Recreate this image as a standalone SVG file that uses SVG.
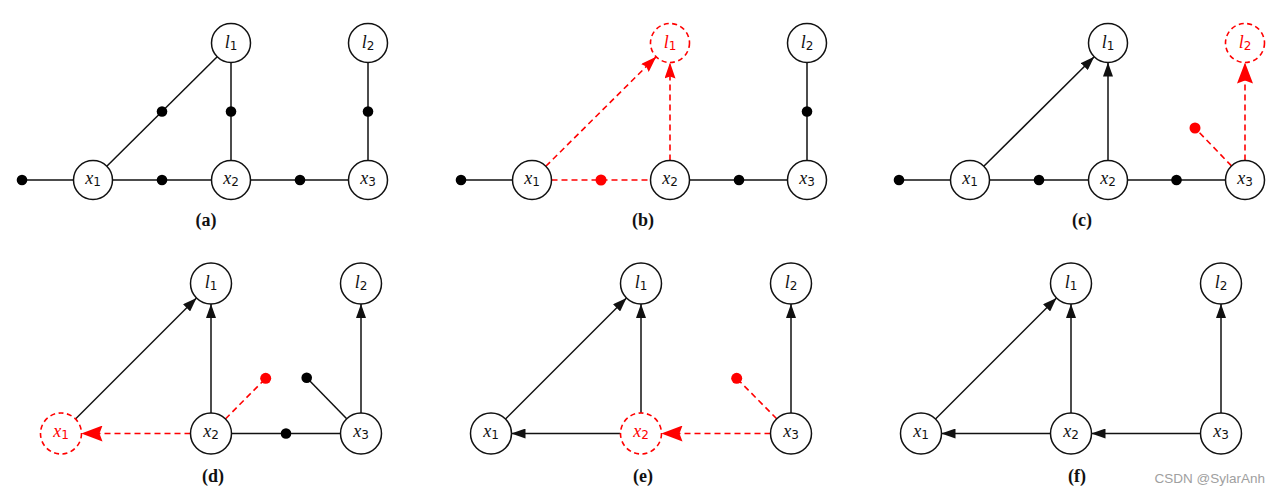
<svg xmlns="http://www.w3.org/2000/svg" width="1280" height="498" viewBox="0 0 1280 498">
<style>
.e{stroke:#111;stroke-width:1.5;fill:none}
.ea{stroke:#111;stroke-width:1.5;fill:none;marker-end:url(#ab)}
.r{stroke:#f00;stroke-width:1.6;fill:none;stroke-dasharray:6 4}
.rs{stroke:#f00;stroke-width:1.6;fill:none;stroke-dasharray:6 4;marker-end:url(#ars)}
.rb{stroke:#f00;stroke-width:1.6;fill:none;stroke-dasharray:6 4;marker-end:url(#arb)}
.n{fill:#fff;stroke:#111;stroke-width:1.5}
.nr{fill:#fff;stroke:#f00;stroke-width:1.6;stroke-dasharray:5 3.5}
.t{font-family:"Liberation Serif","DejaVu Serif",serif;font-size:18px;fill:#111}
.t .v{font-style:italic}
.t .s{font-family:"DejaVu Sans",sans-serif;font-size:12px}
.tr{fill:#f00}
.d{fill:#000}
.dr{fill:#f00}
.cap{font-family:"Liberation Serif","Times New Roman",serif;font-weight:bold;font-size:18px;fill:#111;text-anchor:middle}
.wm{font-family:"Liberation Sans",Arial,sans-serif;font-size:13.5px;fill:#a0a0a0;text-anchor:end}
</style>
<defs>
<marker id="ab" markerUnits="userSpaceOnUse" markerWidth="14" markerHeight="10" refX="14" refY="5" orient="auto"><path d="M0,0 L14,5 L0,10 z" fill="#111"/></marker>
<marker id="ars" markerUnits="userSpaceOnUse" markerWidth="16" markerHeight="11" refX="16" refY="5.5" orient="auto"><path d="M0,0 L16,5.5 L0,11 L2,5.5 z" fill="#f00"/></marker>
<marker id="arb" markerUnits="userSpaceOnUse" markerWidth="21" markerHeight="16" refX="21" refY="8" orient="auto"><path d="M0,0 L21,8 L0,16 L3,8 z" fill="#f00"/></marker>
</defs>

<!-- Panel (a) -->
<g id="panel-a">
<g id="a-connectors">
<line class="e" x1="22" y1="180" x2="73.5" y2="180"/>
<line class="e" x1="112.5" y1="180" x2="211.5" y2="180"/>
<line class="e" x1="250.5" y1="180" x2="348.5" y2="180"/>
<line class="e" x1="106.8" y1="166.3" x2="217.2" y2="56.7"/>
<line class="e" x1="231" y1="160.5" x2="231" y2="62.5"/>
<line class="e" x1="368" y1="160.5" x2="368" y2="62.5"/>
</g>
<g id="a-factors">
<circle class="d" cx="22" cy="180" r="5.3"/>
<circle class="d" cx="162" cy="180" r="5.3"/>
<circle class="d" cx="300" cy="180" r="5.3"/>
<circle class="d" cx="162" cy="111.5" r="5.3"/>
<circle class="d" cx="231" cy="111.5" r="5.3"/>
<circle class="d" cx="368" cy="111.5" r="5.3"/>
</g>
<g id="a-l1"><circle class="n" cx="231" cy="43" r="19.5"/><text class="t" x="231" y="47.5" text-anchor="middle"><tspan class="v">l</tspan><tspan class="s" dy="2">1</tspan></text></g>
<g id="a-l2"><circle class="n" cx="368" cy="43" r="19.5"/><text class="t" x="368" y="47.5" text-anchor="middle"><tspan class="v">l</tspan><tspan class="s" dy="2">2</tspan></text></g>
<g id="a-x1"><circle class="n" cx="93" cy="180" r="19.5"/><text class="t" x="93" y="183.5" text-anchor="middle"><tspan class="v">x</tspan><tspan class="s" dy="2">1</tspan></text></g>
<g id="a-x2"><circle class="n" cx="231" cy="180" r="19.5"/><text class="t" x="231" y="183.5" text-anchor="middle"><tspan class="v">x</tspan><tspan class="s" dy="2">2</tspan></text></g>
<g id="a-x3"><circle class="n" cx="368" cy="180" r="19.5"/><text class="t" x="368" y="183.5" text-anchor="middle"><tspan class="v">x</tspan><tspan class="s" dy="2">3</tspan></text></g>
<text class="cap" x="206" y="226">(a)</text>
</g>

<!-- Panel (b) -->
<g id="panel-b">
<g id="b-connectors">
<line class="e" x1="461" y1="180" x2="512.5" y2="180"/>
<line class="r" x1="551.5" y1="180" x2="650.5" y2="180"/>
<line class="rs" x1="545.8" y1="166.3" x2="656.2" y2="56.7"/>
<line class="rs" x1="670" y1="160.5" x2="670" y2="62.5"/>
<line class="e" x1="689.5" y1="180" x2="787.5" y2="180"/>
<line class="e" x1="807" y1="160.5" x2="807" y2="62.5"/>
</g>
<g id="b-factors">
<circle class="d" cx="461" cy="180" r="5.3"/>
<circle class="dr" cx="601" cy="180" r="5.5"/>
<circle class="d" cx="739" cy="180" r="5.3"/>
<circle class="d" cx="807" cy="111.5" r="5.3"/>
</g>
<g id="b-l1"><circle class="nr" cx="670" cy="43" r="19.5"/><text class="t tr" x="670" y="47.5" text-anchor="middle"><tspan class="v">l</tspan><tspan class="s" dy="2">1</tspan></text></g>
<g id="b-l2"><circle class="n" cx="807" cy="43" r="19.5"/><text class="t" x="807" y="47.5" text-anchor="middle"><tspan class="v">l</tspan><tspan class="s" dy="2">2</tspan></text></g>
<g id="b-x1"><circle class="n" cx="532" cy="180" r="19.5"/><text class="t" x="532" y="183.5" text-anchor="middle"><tspan class="v">x</tspan><tspan class="s" dy="2">1</tspan></text></g>
<g id="b-x2"><circle class="n" cx="670" cy="180" r="19.5"/><text class="t" x="670" y="183.5" text-anchor="middle"><tspan class="v">x</tspan><tspan class="s" dy="2">2</tspan></text></g>
<g id="b-x3"><circle class="n" cx="807" cy="180" r="19.5"/><text class="t" x="807" y="183.5" text-anchor="middle"><tspan class="v">x</tspan><tspan class="s" dy="2">3</tspan></text></g>
<text class="cap" x="643" y="226">(b)</text>
</g>

<!-- Panel (c) -->
<g id="panel-c">
<g id="c-connectors">
<line class="e" x1="899" y1="180" x2="950.5" y2="180"/>
<line class="e" x1="989.5" y1="180" x2="1088.5" y2="180"/>
<line class="e" x1="1127.5" y1="180" x2="1225.5" y2="180"/>
<line class="ea" x1="983.8" y1="166.3" x2="1094.2" y2="56.7"/>
<line class="ea" x1="1108" y1="160.5" x2="1108" y2="62.5"/>
<line class="rb" x1="1245" y1="160.5" x2="1245" y2="62.5"/>
<line class="r" x1="1231.5" y1="165.9" x2="1195" y2="128"/>
</g>
<g id="c-factors">
<circle class="d" cx="899" cy="180" r="5.3"/>
<circle class="d" cx="1039" cy="180" r="5.3"/>
<circle class="d" cx="1176.5" cy="180" r="5.3"/>
<circle class="dr" cx="1195" cy="128" r="5.5"/>
</g>
<g id="c-l1"><circle class="n" cx="1108" cy="43" r="19.5"/><text class="t" x="1108" y="47.5" text-anchor="middle"><tspan class="v">l</tspan><tspan class="s" dy="2">1</tspan></text></g>
<g id="c-l2"><circle class="nr" cx="1245" cy="43" r="19.5"/><text class="t tr" x="1245" y="47.5" text-anchor="middle"><tspan class="v">l</tspan><tspan class="s" dy="2">2</tspan></text></g>
<g id="c-x1"><circle class="n" cx="970" cy="180" r="19.5"/><text class="t" x="970" y="183.5" text-anchor="middle"><tspan class="v">x</tspan><tspan class="s" dy="2">1</tspan></text></g>
<g id="c-x2"><circle class="n" cx="1108" cy="180" r="19.5"/><text class="t" x="1108" y="183.5" text-anchor="middle"><tspan class="v">x</tspan><tspan class="s" dy="2">2</tspan></text></g>
<g id="c-x3"><circle class="n" cx="1245" cy="180" r="19.5"/><text class="t" x="1245" y="183.5" text-anchor="middle"><tspan class="v">x</tspan><tspan class="s" dy="2">3</tspan></text></g>
<text class="cap" x="1082" y="226">(c)</text>
</g>

<!-- Panel (d) -->
<g id="panel-d">
<g id="d-connectors">
<line class="ea" x1="75.5" y1="419" x2="196.5" y2="298"/>
<line class="ea" x1="211" y1="413" x2="211" y2="304"/>
<line class="ea" x1="361" y1="413" x2="361" y2="304"/>
<line class="rb" x1="190.5" y1="433.5" x2="81.5" y2="433.5"/>
<line class="r" x1="225.4" y1="419" x2="265.7" y2="378.3"/>
<line class="e" x1="346.7" y1="418.8" x2="306.7" y2="377.7"/>
<line class="e" x1="231.5" y1="433.5" x2="340.5" y2="433.5"/>
</g>
<g id="d-factors">
<circle class="dr" cx="265.7" cy="378.3" r="5.5"/>
<circle class="d" cx="306.7" cy="377.7" r="5.3"/>
<circle class="d" cx="286" cy="433.5" r="5.3"/>
</g>
<g id="d-l1"><circle class="n" cx="211" cy="283.5" r="20.5"/><text class="t" x="211" y="288" text-anchor="middle"><tspan class="v">l</tspan><tspan class="s" dy="2">1</tspan></text></g>
<g id="d-l2"><circle class="n" cx="361" cy="283.5" r="20.5"/><text class="t" x="361" y="288" text-anchor="middle"><tspan class="v">l</tspan><tspan class="s" dy="2">2</tspan></text></g>
<g id="d-x1"><circle class="nr" cx="61" cy="433.5" r="20.5"/><text class="t tr" x="61" y="437" text-anchor="middle"><tspan class="v">x</tspan><tspan class="s" dy="2">1</tspan></text></g>
<g id="d-x2"><circle class="n" cx="211" cy="433.5" r="20.5"/><text class="t" x="211" y="437" text-anchor="middle"><tspan class="v">x</tspan><tspan class="s" dy="2">2</tspan></text></g>
<g id="d-x3"><circle class="n" cx="361" cy="433.5" r="20.5"/><text class="t" x="361" y="437" text-anchor="middle"><tspan class="v">x</tspan><tspan class="s" dy="2">3</tspan></text></g>
<text class="cap" x="213" y="482">(d)</text>
</g>

<!-- Panel (e) -->
<g id="panel-e">
<g id="e-connectors">
<line class="ea" x1="505.5" y1="419" x2="626.5" y2="298"/>
<line class="ea" x1="641" y1="413" x2="641" y2="304"/>
<line class="ea" x1="791" y1="413" x2="791" y2="304"/>
<line class="ea" x1="620.5" y1="433.5" x2="511.5" y2="433.5"/>
<line class="rb" x1="770.5" y1="433.5" x2="661.5" y2="433.5"/>
<line class="r" x1="776.7" y1="418.8" x2="736.7" y2="378.3"/>
</g>
<g id="e-factors">
<circle class="dr" cx="736.7" cy="378.3" r="5.5"/>
</g>
<g id="e-l1"><circle class="n" cx="641" cy="283.5" r="20.5"/><text class="t" x="641" y="288" text-anchor="middle"><tspan class="v">l</tspan><tspan class="s" dy="2">1</tspan></text></g>
<g id="e-l2"><circle class="n" cx="791" cy="283.5" r="20.5"/><text class="t" x="791" y="288" text-anchor="middle"><tspan class="v">l</tspan><tspan class="s" dy="2">2</tspan></text></g>
<g id="e-x1"><circle class="n" cx="491" cy="433.5" r="20.5"/><text class="t" x="491" y="437" text-anchor="middle"><tspan class="v">x</tspan><tspan class="s" dy="2">1</tspan></text></g>
<g id="e-x2"><circle class="nr" cx="641" cy="433.5" r="20.5"/><text class="t tr" x="641" y="437" text-anchor="middle"><tspan class="v">x</tspan><tspan class="s" dy="2">2</tspan></text></g>
<g id="e-x3"><circle class="n" cx="791" cy="433.5" r="20.5"/><text class="t" x="791" y="437" text-anchor="middle"><tspan class="v">x</tspan><tspan class="s" dy="2">3</tspan></text></g>
<text class="cap" x="643" y="482">(e)</text>
</g>

<!-- Panel (f) -->
<g id="panel-f">
<g id="f-connectors">
<line class="ea" x1="935.5" y1="419" x2="1056.5" y2="298"/>
<line class="ea" x1="1071" y1="413" x2="1071" y2="304"/>
<line class="ea" x1="1221" y1="413" x2="1221" y2="304"/>
<line class="ea" x1="1050.5" y1="433.5" x2="941.5" y2="433.5"/>
<line class="ea" x1="1200.5" y1="433.5" x2="1091.5" y2="433.5"/>
</g>
<g id="f-l1"><circle class="n" cx="1071" cy="283.5" r="20.5"/><text class="t" x="1071" y="288" text-anchor="middle"><tspan class="v">l</tspan><tspan class="s" dy="2">1</tspan></text></g>
<g id="f-l2"><circle class="n" cx="1221" cy="283.5" r="20.5"/><text class="t" x="1221" y="288" text-anchor="middle"><tspan class="v">l</tspan><tspan class="s" dy="2">2</tspan></text></g>
<g id="f-x1"><circle class="n" cx="921" cy="433.5" r="20.5"/><text class="t" x="921" y="437" text-anchor="middle"><tspan class="v">x</tspan><tspan class="s" dy="2">1</tspan></text></g>
<g id="f-x2"><circle class="n" cx="1071" cy="433.5" r="20.5"/><text class="t" x="1071" y="437" text-anchor="middle"><tspan class="v">x</tspan><tspan class="s" dy="2">2</tspan></text></g>
<g id="f-x3"><circle class="n" cx="1221" cy="433.5" r="20.5"/><text class="t" x="1221" y="437" text-anchor="middle"><tspan class="v">x</tspan><tspan class="s" dy="2">3</tspan></text></g>
<text class="cap" x="1077" y="482">(f)</text>
</g>

<text class="wm" x="1265" y="483">CSDN @SylarAnh</text>
</svg>
